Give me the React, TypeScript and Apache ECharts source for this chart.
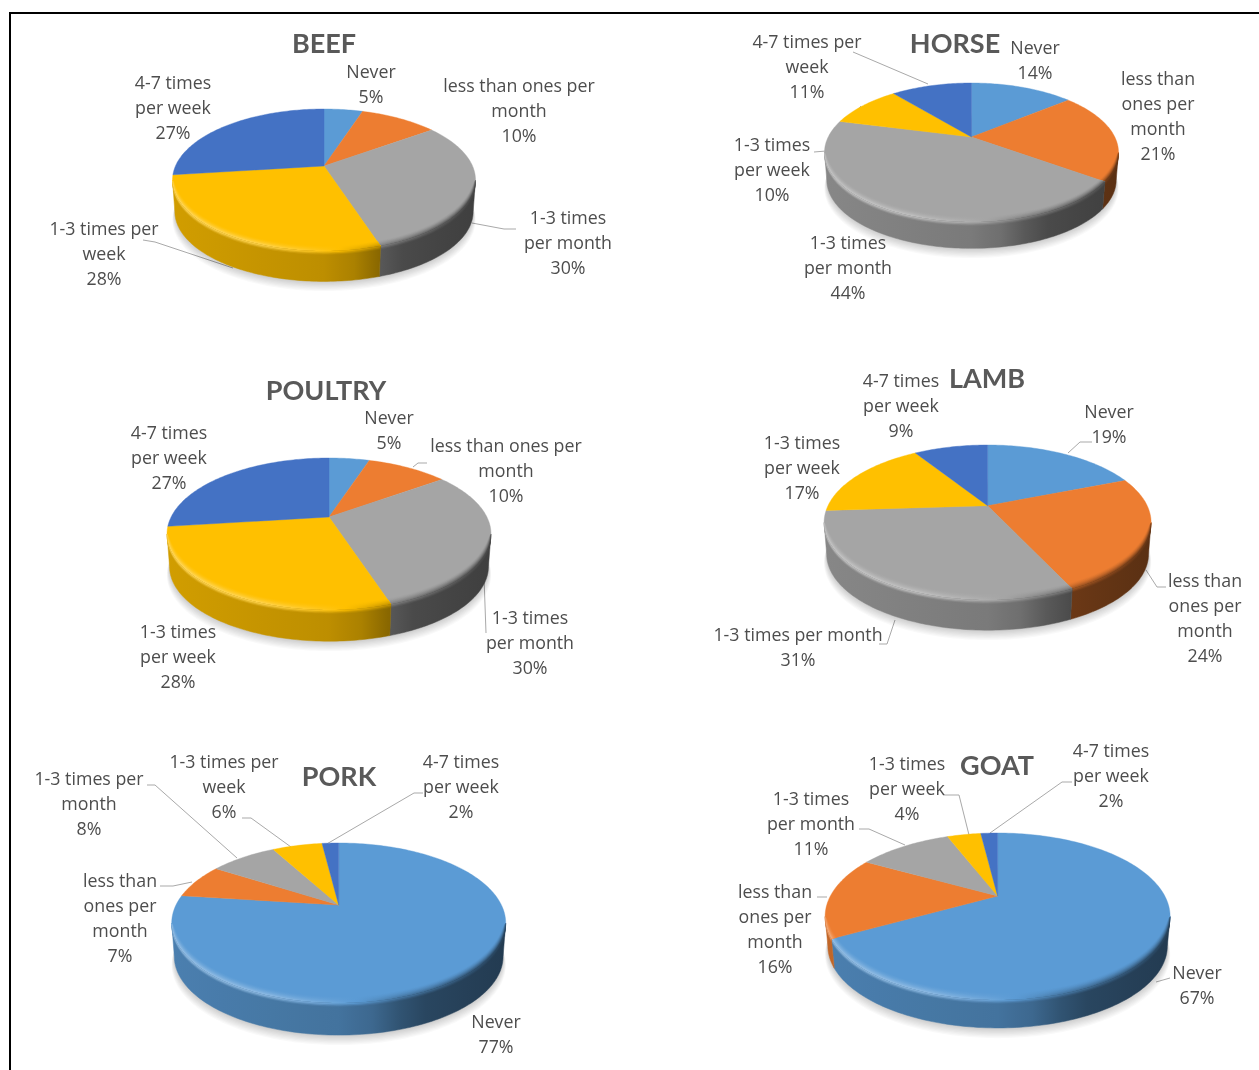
import React, { useEffect, useRef } from "react";
import * as echarts from "echarts";

const categories = ["Never", "less than ones per month", "1-3 times per month", "1-3 times per week", "4-7 times per week"];
const sliceColors = ["#5B9BD5", "#ED7D31", "#A5A5A5", "#FFC000", "#4472C4"];

const beefValues = [5, 10, 30, 28, 27];
const horseValues = [14, 21, 44, 10, 11];
const poultryValues = [5, 10, 30, 28, 27];
const lambValues = [19, 24, 31, 17, 9];
const porkValues = [77, 7, 8, 6, 2];
const goatValues = [67, 16, 11, 4, 2];

type Label = [number, number, number, string[]];

const pies = [
  {
    title: "BEEF", titleX: 324, titleY: 44, values: beefValues,
    ax: 324, ay: 166, top: 109, bottom: 251, halfW: 151.5, depth: 32,
    labels: [
      [0, 371, 72, ["Never"]],
      [1, 519, 86, ["less than ones per", "month"]],
      [2, 568, 218, ["1-3 times", "per month"]],
      [3, 104, 229, ["1-3 times per", "week"]],
      [4, 173, 83, ["4-7 times", "per week"]],
    ] as Label[],
    leaders: [[[472, 223], [504, 229], [516, 229]], [[143, 240], [155, 242], [233, 268]]],
  },
  {
    title: "HORSE", titleX: 955, titleY: 44, values: horseValues,
    ax: 971.5, ay: 137, top: 83, bottom: 222, halfW: 147, depth: 28,
    labels: [
      [0, 1035, 48, ["Never"]],
      [1, 1158, 79, ["less than", "ones per", "month"]],
      [2, 848, 243, ["1-3 times", "per month"]],
      [3, 772, 145, ["1-3 times", "per week"]],
      [4, 807, 42, ["4-7 times per", "week"]],
    ] as Label[],
    leaders: [[[853, 52], [928, 84]], [[814, 152], [826, 151], [861, 106]]],
  },
  {
    title: "POULTRY", titleX: 326, titleY: 391, values: poultryValues,
    ax: 329, ay: 517, top: 458, bottom: 610, halfW: 162, depth: 33,
    labels: [
      [0, 389, 418, ["Never"]],
      [1, 506, 446, ["less than ones per", "month"]],
      [2, 530, 618, ["1-3 times", "per month"]],
      [3, 178, 632, ["1-3 times", "per week"]],
      [4, 169, 433, ["4-7 times", "per week"]],
    ] as Label[],
    leaders: [[[413, 467], [418, 463], [427, 463]], [[484, 577], [486, 633]]],
  },
  {
    title: "LAMB", titleX: 987, titleY: 379, values: lambValues,
    ax: 987.6, ay: 505.7, top: 445, bottom: 600, halfW: 163.5, depth: 32,
    labels: [
      [0, 1109, 412, ["Never"]],
      [1, 1205, 581, ["less than", "ones per", "month"]],
      [2, 798, 635, ["1-3 times per month"]],
      [3, 802, 443, ["1-3 times", "per week"]],
      [4, 901, 381, ["4-7 times", "per week"]],
    ] as Label[],
    leaders: [[[1068, 453], [1080, 442], [1092, 442]], [[1146, 570], [1157, 587], [1166, 587]], [[895, 620], [887, 644], [879, 644]]],
  },
  {
    title: "PORK", titleX: 339, titleY: 777, values: porkValues,
    ax: 338.7, ay: 905, top: 843, bottom: 1003, halfW: 167, depth: 34,
    labels: [
      [0, 496, 1022, ["Never"]],
      [1, 120, 881, ["less than", "ones per", "month"]],
      [2, 89, 779, ["1-3 times per", "month"]],
      [3, 224, 762, ["1-3 times per", "week"]],
      [4, 461, 762, ["4-7 times", "per week"]],
    ] as Label[],
    leaders: [[[147, 785], [155, 785], [237, 858]], [[242, 818], [251, 818], [291, 847]], [[423, 793], [414, 793], [325, 845]], [[160, 886], [173, 886], [192, 882]]],
  },
  {
    title: "GOAT", titleX: 997, titleY: 766, values: goatValues,
    ax: 997.6, ay: 896, top: 833, bottom: 1000, halfW: 172.5, depth: 30,
    labels: [
      [0, 1197, 973, ["Never"]],
      [1, 775, 892, ["less than", "ones per", "month"]],
      [2, 811, 799, ["1-3 times", "per month"]],
      [3, 907, 764, ["1-3 times", "per week"]],
      [4, 1111, 751, ["4-7 times", "per week"]],
    ] as Label[],
    leaders: [[[943, 795], [959, 795], [969, 835]], [[859, 829], [869, 829], [905, 845]], [[1072, 782], [1062, 782], [990, 833]], [[817, 897], [827, 897]], [[1156, 982], [1170, 978]]],
  },
];

const TWO_PI = Math.PI * 2;
const LABEL_FONT = '"Open Sans", sans-serif';
const TITLE_FONT = "Lato, sans-serif";
const LINE_H = 25.1;
const BOTTOM_R = 0.985;
const RIM_INSET = 0.055;
const RIM_STEPS = 10;
const WALL_FADE = [1.2, 2.4, 3.5];

type RGB = [number, number, number];
const hex = (h: string): RGB => [parseInt(h.slice(1, 3), 16), parseInt(h.slice(3, 5), 16), parseInt(h.slice(5, 7), 16)];
const mix = (a: RGB, b: RGB, t: number): RGB => [a[0] + (b[0] - a[0]) * t, a[1] + (b[1] - a[1]) * t, a[2] + (b[2] - a[2]) * t];
const scale = (a: RGB, s: number): RGB => [a[0] * s, a[1] * s, a[2] * s];
const css = (a: RGB) => `rgb(${Math.round(a[0])},${Math.round(a[1])},${Math.round(a[2])})`;
const WHITE: RGB = [255, 255, 255];

function interp(stops: number[][], f: number) {
  for (let i = 1; i < stops.length; i++) {
    if (f <= stops[i][0]) {
      const t = (f - stops[i - 1][0]) / (stops[i][0] - stops[i - 1][0] || 1);
      return stops[i - 1][1] + (stops[i][1] - stops[i - 1][1]) * t;
    }
  }
  return stops[stops.length - 1][1];
}

const GRAD_POS = [0, 0.15, 0.3, 0.45, 0.5, 0.55, 0.6, 0.68, 0.76, 0.88, 1];
const WALL_STOPS = [[0, 0.82], [0.5, 0.74], [0.6, 0.67], [0.68, 0.54], [0.76, 0.45], [1, 0.38]];
const RIM_LIGHT = [[0, 0.36], [0.3, 0.3], [0.45, 0.15], [0.55, 0]];
const RIM_DARK = [[0.55, 1], [0.68, 0.78], [1, 0.44]];

function wallColor(base: RGB, f: number): RGB {
  return scale(base, interp(WALL_STOPS, f));
}
function rimColor(base: RGB, f: number): RGB {
  if (f < 0.55) return mix(base, WHITE, interp(RIM_LIGHT, f));
  return scale(base, interp(RIM_DARK, f));
}

function pieSeries(p: (typeof pies)[number]) {
  const t = p.ay - p.top;
  const b = p.bottom - p.ay;
  const k = (b - t) / (b + t);
  const B = t * (1 + k);
  const A = p.halfW * Math.sqrt(1 - k * k);
  const project = (r: number, th: number, d: number) => {
    const u = r * Math.sin(th);
    const v = r * Math.cos(th);
    const w = 1 + k * v;
    return [p.ax + (A * u) / w, p.ay - (B * v) / w + d];
  };
  const arc = (a0: number, a1: number, r: number, d: number) => {
    const n = Math.max(2, Math.ceil((a1 - a0) / 0.02));
    const pts: number[][] = [];
    for (let i = 0; i <= n; i++) pts.push(project(r, a0 + ((a1 - a0) * i) / n, d));
    return pts;
  };
  const thR = Math.acos(-k);
  const thL = TWO_PI - thR;
  // inset rim ring, fading to nothing at the two ends of the front arc
  const rimArc = (a0: number, a1: number, inset: number) => {
    const n = Math.max(2, Math.ceil((a1 - a0) / 0.02));
    const pts: number[][] = [];
    for (let i = 0; i <= n; i++) {
      const th = a0 + ((a1 - a0) * i) / n;
      const taper = Math.pow(Math.max(0, Math.sin((Math.PI * (th - thR)) / (thL - thR))), 0.5);
      pts.push(project(1 - inset * taper, th, 0));
    }
    return pts;
  };
  const total = p.values.reduce((s, v) => s + v, 0);
  const left = p.ax - p.halfW;
  const right = p.ax + p.halfW;

  const grad = (fn: (f: number) => RGB) => ({
    type: "linear", x: left, y: 0, x2: right, y2: 0, global: true,
    colorStops: GRAD_POS.map((f) => ({ offset: f, color: css(fn(f)) })),
  });

  const renderItem = (params: any, api: any) => {
    const i = params.dataIndex;
    const before = p.values.slice(0, i).reduce((s, v) => s + v, 0);
    const th0 = (before / total) * TWO_PI;
    const th1 = ((before + api.value(0)) / total) * TWO_PI;
    const base = hex(sliceColors[i]);
    const children: any[] = [];
    if (i === 0) {
      for (let s = 8; s >= 1; s--) {
        children.push({
          type: "polygon",
          shape: { points: arc(0, TWO_PI, BOTTOM_R + s * 0.002, p.depth + s) },
          style: { fill: "rgba(0,0,0,0.022)" },
        });
      }
    }
    const a0 = Math.max(th0, thR);
    const a1 = Math.min(th1, thL);
    const topFace = {
      type: "polygon",
      shape: { points: [project(0, 0, 0), ...arc(th0, th1, 1, 0)] },
      style: { fill: sliceColors[i], stroke: sliceColors[i], lineWidth: 0.4 },
    };
    if (a1 > a0) {
      const wallFill = grad((f) => wallColor(base, f));
      children.push({
        type: "polygon",
        shape: { points: [...arc(a0, a1, 1, 0), ...arc(a0, a1, BOTTOM_R, p.depth).reverse()] },
        style: { fill: wallFill, stroke: wallFill, lineWidth: 0.5 },
      });
      children.push(topFace);
      // nested rings from the inset edge down to the rim: each repaints the rest of the way out
      for (let j = 1; j <= RIM_STEPS; j++) {
        const a = Math.pow(j / RIM_STEPS, 1.6);
        const inset = RIM_INSET * (1 - (j - 1) / RIM_STEPS);
        const fill = grad((f) => mix(base, rimColor(base, f), a));
        children.push({
          type: "polygon",
          shape: { points: [...rimArc(a0, a1, inset), ...arc(a0, a1, 1, 0).reverse()] },
          style: { fill },
        });
      }
      // the rim runs out into the wall colour over a few pixels
      for (let j = WALL_FADE.length - 1; j >= 0; j--) {
        const w = (j + 1) / (WALL_FADE.length + 0.0);
        const fill = grad((f) => mix(rimColor(base, f), wallColor(base, f), w - 0.17));
        children.push({
          type: "polygon",
          shape: { points: [...arc(a0, a1, 1, 0), ...arc(a0, a1, 1, WALL_FADE[j]).reverse()] },
          style: { fill },
        });
      }
    } else {
      children.push(topFace);
    }
    return { type: "group", children };
  };

  return {
    type: "custom",
    name: p.title,
    coordinateSystem: "none",
    silent: true,
    clip: false,
    renderItem,
    data: p.values.map((v, i) => ({ name: categories[i], value: v })),
  };
}

function buildGraphic() {
  const els: any[] = [
    { type: "rect", shape: { x: 9, y: 12, width: 1250, height: 2 }, style: { fill: "#000" }, silent: true },
    { type: "rect", shape: { x: 9, y: 12, width: 2, height: 1058 }, style: { fill: "#000" }, silent: true },
  ];
  for (const p of pies) {
    for (const line of p.leaders) {
      els.push({ type: "polyline", shape: { points: line }, style: { stroke: "#a9a9a9", lineWidth: 1, fill: "none" }, silent: true });
    }
    els.push({
      type: "text",
      x: p.titleX,
      y: p.titleY - 1.5,
      style: {
        text: p.title, align: "center", verticalAlign: "middle",
        font: `bold 27px ${TITLE_FONT}`, fill: "#595959",
      },
      silent: true,
    });
    for (const [idx, cx, y, lines] of p.labels) {
      els.push({
        type: "text",
        x: cx,
        y: y - 1 - LINE_H / 2,
        style: {
          text: [...lines, `${p.values[idx]}%`].join("\n"),
          align: "center", verticalAlign: "top", lineHeight: LINE_H,
          font: `17.8px ${LABEL_FONT}`, fill: "#4d4d4d",
        },
        silent: true,
      });
    }
  }
  return { elements: els };
}

export default function App() {
  const ref = useRef<HTMLDivElement>(null);
  useEffect(() => {
    const chart = echarts.init(ref.current!, undefined, { renderer: "svg" });
    chart.setOption({
      animation: false,
      backgroundColor: "#ffffff",
      graphic: buildGraphic(),
      series: pies.map(pieSeries),
    });
    return () => chart.dispose();
  }, []);
  return <div ref={ref} style={{ position: "absolute", left: 0, top: 0, width: 1259, height: 1070, filter: "blur(0.4px)" }} />;
}
